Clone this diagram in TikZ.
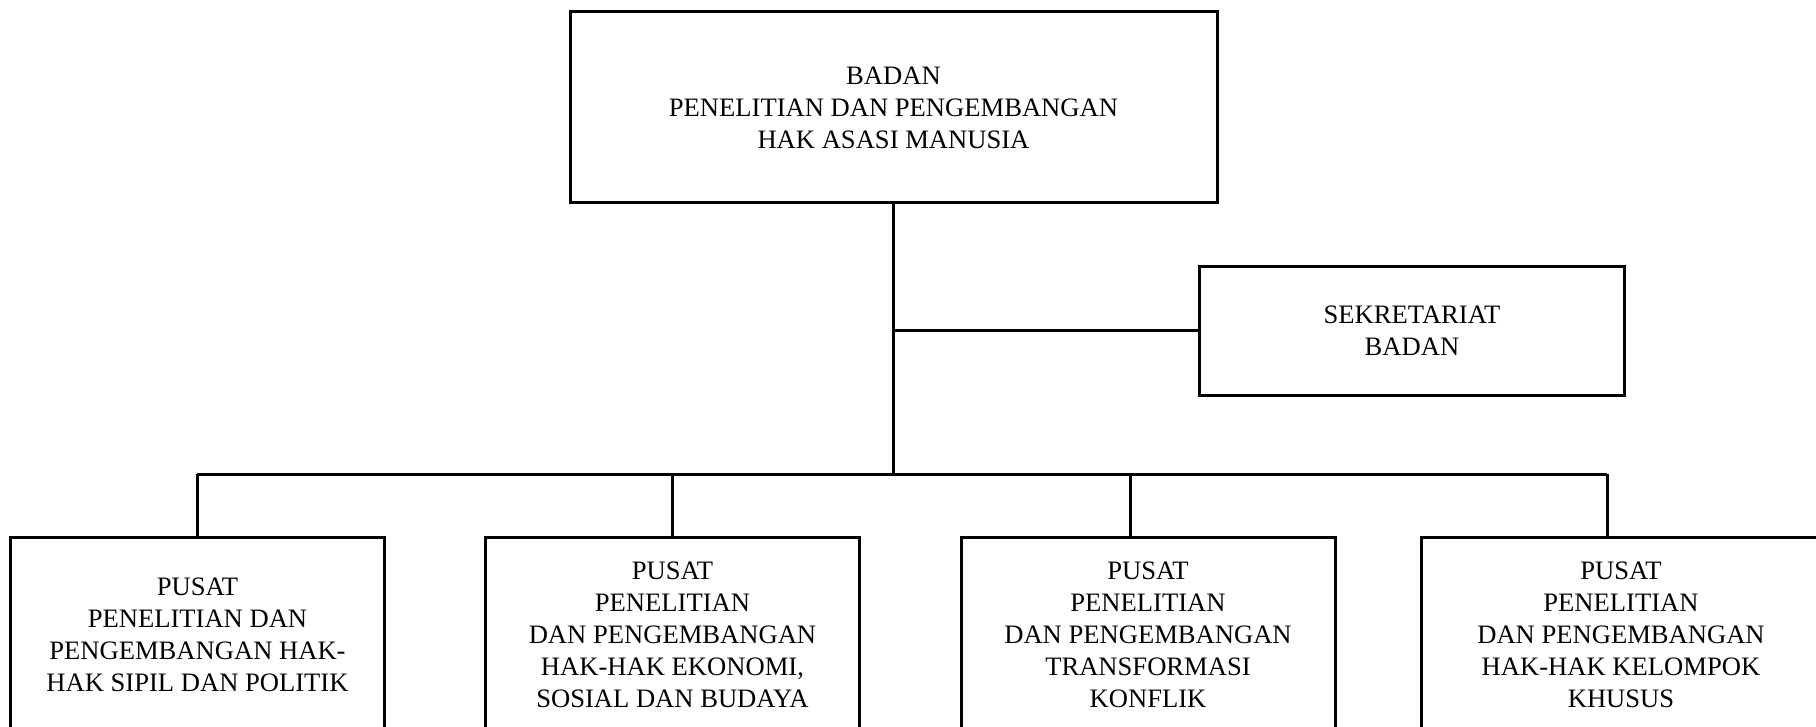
\documentclass[tikz,border=0pt]{standalone}
\usepackage{fontspec}
\setmainfont{Liberation Serif}
\usepackage{tikz}
\usetikzlibrary{positioning}

\begin{document}
\begin{tikzpicture}
[
x=1pt, y=1pt,
box/.style   ={rectangle, draw, line width=1.5pt, align=center, inner sep=0pt,
               font=\fontsize{13.3}{16}\selectfont},
unit/.style  ={box, minimum width=187pt, minimum height=98pt},
link/.style  ={draw, line width=1.5pt}
]
\useasboundingbox (0,0) rectangle (908,-363.5);

\node[box, minimum width=323.5pt, minimum height=95.5pt] (badan) at (446.75,-53.75)
  {BADAN\\PENELITIAN DAN PENGEMBANGAN\\HAK ASASI MANUSIA};

\node[box, minimum width=212.5pt, minimum height=64pt] (sekretariat) at (706,-165.5)
  {SEKRETARIAT\\BADAN};

% the four centres
\node[unit] (p1) at (98.75,-317.5)
  {PUSAT\\PENELITIAN DAN\\PENGEMBANGAN HAK-\\HAK SIPIL DAN POLITIK};
\node[unit] (p2) at (336.25,-317.5)
  {PUSAT\\PENELITIAN\\DAN PENGEMBANGAN\\HAK-HAK EKONOMI,\\SOSIAL DAN BUDAYA};
\node[unit] (p3) at (574,-317.5)
  {PUSAT\\PENELITIAN\\DAN PENGEMBANGAN\\TRANSFORMASI\\KONFLIK};
\node[unit, minimum width=200pt] (p4) at (810.5,-317.5)
  {PUSAT\\PENELITIAN\\DAN PENGEMBANGAN\\HAK-HAK KELOMPOK\\KHUSUS};

\coordinate (hub) at (446.75,-237);
\coordinate (d1) at (98.5,-237);
\coordinate (d2) at (336.25,-237);
\coordinate (d3) at (565,-237);
\coordinate (d4) at (803.5,-237);

\path[link] (badan.south) -- (hub);
\path[link] (hub |- sekretariat.west) -- (sekretariat.west);
\path[link] (d1) -- (d4);
\foreach \i in {1,...,4}
  \path[link] (d\i) -- (d\i |- p\i.north);
\end{tikzpicture}
\end{document}
